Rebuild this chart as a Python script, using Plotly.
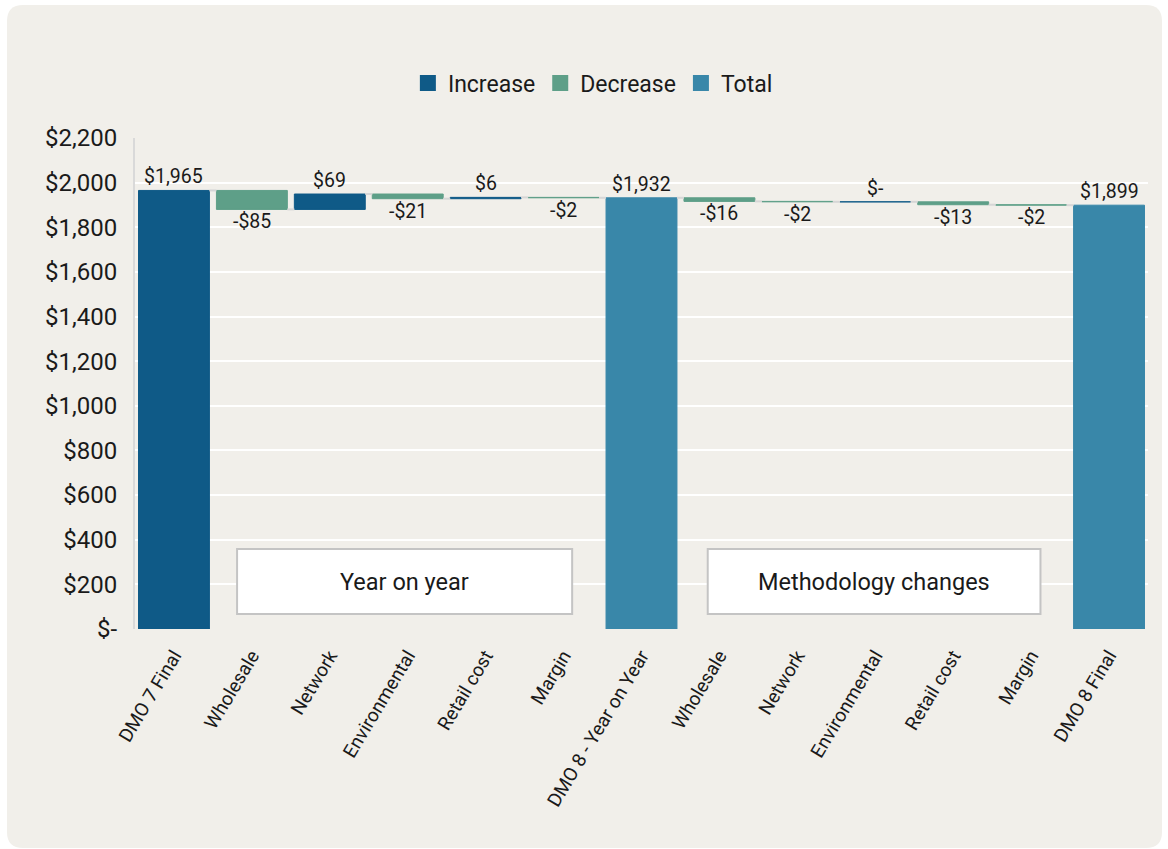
import plotly.graph_objects as go

# ---- data ----
categories = [
    "DMO 7 Final", "Wholesale", "Network", "Environmental", "Retail cost", "Margin",
    "DMO 8 - Year on Year", "Wholesale", "Network", "Environmental", "Retail cost",
    "Margin", "DMO 8 Final",
]
measures = [
    "absolute", "relative", "relative", "relative", "relative", "relative",
    "total", "relative", "relative", "relative", "relative", "relative", "total",
]
values = [1965, -85, 69, -21, 6, -2, None, -16, -2, 0, -13, -2, None]

y_tick_values = [0, 200, 400, 600, 800, 1000, 1200, 1400, 1600, 1800, 2000, 2200]
y_tick_labels = ["$-", "$200", "$400", "$600", "$800", "$1,000", "$1,200",
                 "$1,400", "$1,600", "$1,800", "$2,000", "$2,200"]

section_labels = ["Year on year", "Methodology changes"]

# ---- styling ----
W, H = 1168, 849
M_L, M_R, M_T, M_B = 135, 20, 138, 220
COL_INC = "#0F5A87"
COL_DEC = "#5E9F88"
COL_TOT = "#3987A9"
PANEL = "#F1EFEA"
FONT = "Roboto"
TXT = "#1A1A1A"


def money(v):
    if v == 0:
        return "$-"
    s = "${:,.0f}".format(abs(v))
    return "-" + s if v < 0 else s


# ---- waterfall geometry from the values ----
running = 0
bars = []  # (x, base, height, kind, label, label_y, above)
ends = []
for i, (m, v) in enumerate(zip(measures, values)):
    if m == "absolute":
        running = v
        bars.append((i, 0, v, "inc", money(v), v, True))
    elif m == "total":
        bars.append((i, 0, running, "tot", money(running), running, True))
    else:
        if v >= 0:
            bars.append((i, running, v, "inc", money(v), running + v, True))
        else:
            bars.append((i, running + v, -v, "dec", money(v), running + v, False))
        running += v
    ends.append(running)

BAR_W = 0.91

fig = go.Figure()

# connectors between adjacent bars
cx, cy = [], []
for i in range(len(categories) - 1):
    cx += [i + BAR_W / 2, i + 1 - BAR_W / 2, None]
    cy += [ends[i], ends[i], None]
fig.add_trace(go.Scatter(x=cx, y=cy, mode="lines", line=dict(color="#D6D6D6", width=2),
                         hoverinfo="skip", showlegend=False))

colors = {"inc": COL_INC, "dec": COL_DEC, "tot": COL_TOT}
names = {"inc": "Increase", "dec": "Decrease", "tot": "Total"}
for kind in ["inc", "dec", "tot"]:
    sel = [b for b in bars if b[3] == kind]
    fig.add_trace(go.Bar(
        x=[b[0] for b in sel], y=[b[2] for b in sel], base=[b[1] for b in sel],
        width=BAR_W, marker=dict(color=colors[kind], line=dict(color=colors[kind], width=1)),
        name=names[kind], showlegend=False,
    ))

# legend entries
for kind in ["inc", "dec", "tot"]:
    fig.add_trace(go.Scatter(
        x=[None], y=[None], mode="markers", name=names[kind],
        marker=dict(symbol="square", size=16, color=colors[kind]),
    ))

# value labels
annotations = []
for b in bars:
    annotations.append(dict(
        x=b[0], y=b[5], xref="x", yref="y", text=b[4], showarrow=False,
        yanchor="bottom" if b[6] else "top", yshift=0 if b[6] else 1,
        font=dict(family=FONT, size=19.5, color=TXT),
    ))

# ---- panel background with rounded corners (paper coords) ----
pw, ph = W - M_L - M_R, H - M_T - M_B


def px(xp):
    return (xp - M_L) / pw


def py(yp):
    return (H - M_B - yp) / ph


x0, x1, y0, y1, r = 7, 1162, 5, 848, 16
path = (
    f"M {px(x0 + r)},{py(y0)} L {px(x1 - r)},{py(y0)} "
    f"Q {px(x1)},{py(y0)} {px(x1)},{py(y0 + r)} "
    f"L {px(x1)},{py(y1 - r)} Q {px(x1)},{py(y1)} {px(x1 - r)},{py(y1)} "
    f"L {px(x0 + r)},{py(y1)} Q {px(x0)},{py(y1)} {px(x0)},{py(y1 - r)} "
    f"L {px(x0)},{py(y0 + r)} Q {px(x0)},{py(y0)} {px(x0 + r)},{py(y0)} Z"
)
shapes = [dict(type="path", path=path, xref="paper", yref="paper",
               fillcolor=PANEL, line=dict(width=0), layer="below")]

# section boxes
boxes = [(0.81, 5.11), (6.85, 11.12)]
for (bx0, bx1), lab in zip(boxes, section_labels):
    shapes.append(dict(type="rect", xref="x", yref="y", x0=bx0, x1=bx1, y0=67, y1=358,
                       fillcolor="white", line=dict(color="#C4C4C4", width=2), layer="above"))
    annotations.append(dict(x=(bx0 + bx1) / 2, y=212, xref="x", yref="y", text=lab,
                            showarrow=False, font=dict(family=FONT, size=23.5, color=TXT)))

fig.update_layout(
    width=W, height=H,
    margin=dict(l=M_L, r=M_R, t=M_T, b=M_B),
    paper_bgcolor="white", plot_bgcolor="rgba(0,0,0,0)",
    barmode="overlay", shapes=shapes, annotations=annotations,
    font=dict(family=FONT, color=TXT),
    legend=dict(orientation="h", x=0.452, xanchor="center", y=1.112, yanchor="middle",
                font=dict(family=FONT, size=23, color=TXT), bgcolor="rgba(0,0,0,0)",
                itemclick=False, traceorder="normal"),
    xaxis=dict(range=[-0.5, len(categories) - 0.5], tickmode="array",
               tickvals=list(range(len(categories))), ticktext=categories,
               tickangle=-59, tickfont=dict(family=FONT, size=19, color=TXT),
               showgrid=False, zeroline=False, showline=False, ticks="",
               ticklabelstandoff=11, fixedrange=True),
    yaxis=dict(range=[0, 2200], tickmode="array", tickvals=y_tick_values,
               ticktext=y_tick_labels, tickfont=dict(family=FONT, size=24, color=TXT),
               showgrid=True, gridcolor="white", gridwidth=2, zeroline=False,
               showline=True, linecolor="#D9D9D9", linewidth=2, ticks="",
               ticklabelstandoff=11, fixedrange=True),
)

fig.write_html("out.html")
